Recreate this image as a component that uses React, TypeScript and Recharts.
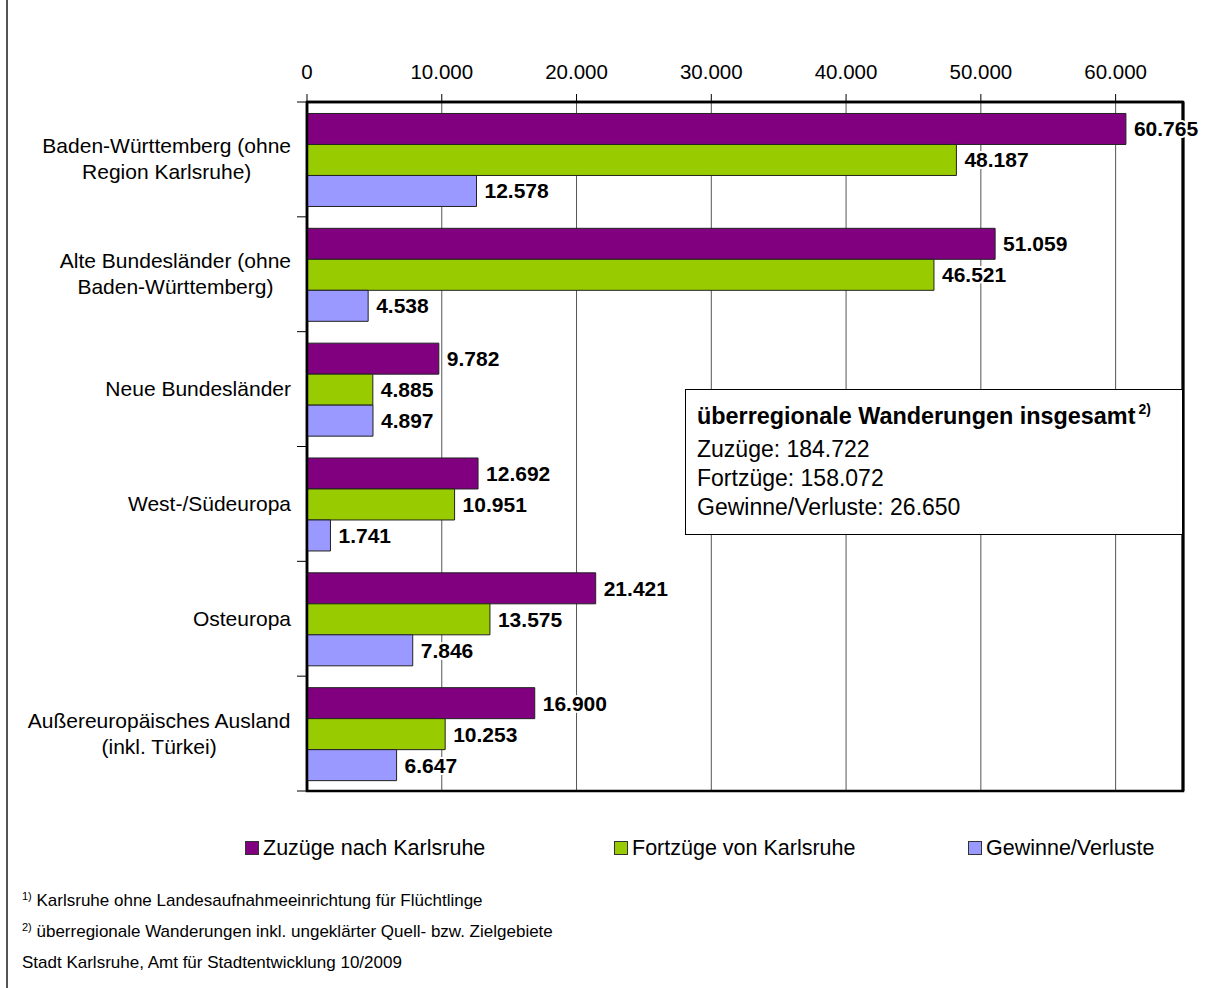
import React from 'react';
import { BarChart, Bar, XAxis, YAxis, CartesianGrid, LabelList, Legend, ReferenceArea, ReferenceLine } from 'recharts';

const categories = [
  'Baden-Württemberg (ohne\nRegion Karlsruhe)',
  'Alte Bundesländer (ohne\nBaden-Württemberg)',
  'Neue Bundesländer',
  'West-/Südeuropa',
  'Osteuropa',
  'Außereuropäisches Ausland\n(inkl. Türkei)',
];
const zuzuege = [60765, 51059, 9782, 12692, 21421, 16900];
const fortzuege = [48187, 46521, 4885, 10951, 13575, 10253];
const gewinne = [12578, 4538, 4897, 1741, 7846, 6647];
const xTicks = [0, 10000, 20000, 30000, 40000, 50000, 60000];
const seriesNames = ['Zuzüge nach Karlsruhe', 'Fortzüge von Karlsruhe', 'Gewinne/Verluste'];
const seriesColors = ['#800080', '#99CC00', '#9999FF'];

const data = categories.map((name, i) => ({
  name,
  zu: zuzuege[i],
  fort: fortzuege[i],
  gew: gewinne[i],
}));

const FONT = '"Liberation Sans", Arial, sans-serif';
const fmt = (v: any) => String(v).replace(/\B(?=(\d{3})+(?!\d))/g, '.');

let ctx: CanvasRenderingContext2D | null = null;
const measure = (t: string, font: string) => {
  if (!ctx) ctx = document.createElement('canvas').getContext('2d');
  if (!ctx) return t.length * 10;
  ctx.font = font;
  return ctx.measureText(t).width;
};

const CAT_FS = 21;
const BAND = (791 - 102) / categories.length;

const YTick = (props: any) => {
  const { y, payload, index } = props;
  const lines = String(payload.value).split('\n');
  const right = 291;
  const font = `${CAT_FS}px ${FONT}`;
  const widths = lines.map((l) => measure(l, font));
  const maxW = Math.max(...widths);
  const cx = right - maxW / 2;
  const lh = 26;
  const startY = y - ((lines.length - 1) * lh) / 2 + 7;
  return (
    <g>
      {lines.map((l, i) => (
        <text key={i} x={cx} y={startY + i * lh} textAnchor="middle" fontSize={CAT_FS} fontFamily={FONT} fill="#000">
          {l}
        </text>
      ))}
      <line x1={297} x2={307} y1={y - BAND / 2} y2={y - BAND / 2} stroke="#000" strokeWidth={1} />
      {index === categories.length - 1 && (
        <line x1={297} x2={307} y1={y + BAND / 2} y2={y + BAND / 2} stroke="#000" strokeWidth={1} />
      )}
    </g>
  );
};

const XTick = (props: any) => {
  const { x, payload } = props;
  return (
    <text x={x} y={79} textAnchor="middle" fontSize={20.5} fontFamily={FONT} fill="#000">
      {fmt(payload.value)}
    </text>
  );
};

const legendLefts = [245, 614, 968];

const LegendContent = (props: any) => {
  const items = [...(props.payload || [])].sort(
    (a: any, b: any) => seriesNames.indexOf(a.value) - seriesNames.indexOf(b.value)
  );
  return (
    <div style={{ position: 'relative', width: '100%', height: 26, fontFamily: FONT, fontSize: 21.5, lineHeight: '26px', color: '#000' }}>
      {items.map((it: any, i: number) => (
        <div key={i} style={{ position: 'absolute', left: legendLefts[i], top: 0, display: 'flex', alignItems: 'center', whiteSpace: 'nowrap' }}>
          <span style={{ display: 'inline-block', width: 12, height: 12, background: it.color, border: '1px solid #333', marginRight: 4 }} />
          <span>{it.value}</span>
        </div>
      ))}
    </div>
  );
};

const labelStyle = {
  fontWeight: 'bold',
  fontSize: 21,
  fontFamily: FONT,
  fill: '#000',
  stroke: '#fff',
  strokeWidth: 4,
  paintOrder: 'stroke',
} as any;

const supStyle = { fontSize: 11, position: 'relative', top: -6 } as any;

export default function App() {
  return (
    <div style={{ position: 'absolute', left: 0, top: 0, width: 1224, height: 988, background: '#fff', fontFamily: FONT, overflow: 'hidden' }}>
      <div style={{ position: 'absolute', left: 6, top: 0, width: 2, height: 988, background: '#555' }} />
      <div style={{ position: 'absolute', left: 0, top: 0 }}>
        <BarChart
          width={1224}
          height={988}
          layout="vertical"
          data={data}
          margin={{ top: 62, left: 7, right: 41, bottom: 197 }}
          barCategoryGap="10%"
          barGap={0}
        >
          <CartesianGrid horizontal={false} stroke="#555" strokeWidth={1} />
          <XAxis
            type="number"
            orientation="top"
            domain={[0, 65000]}
            ticks={xTicks}
            height={40}
            tick={<XTick />}
            tickSize={8}
            tickLine={{ stroke: '#000' }}
            axisLine={{ stroke: '#000', strokeWidth: 2.5 }}
            allowDataOverflow
          />
          <YAxis
            type="category"
            dataKey="name"
            width={300}
            tick={<YTick />}
            tickLine={false}
            axisLine={{ stroke: '#000', strokeWidth: 2.5 }}
            interval={0}
          />
          <ReferenceArea x1={0} x2={65000} fill="none" stroke="#000" strokeWidth={2.5} ifOverflow="visible" />
          <ReferenceLine x={65000} stroke="#000" strokeWidth={3} ifOverflow="visible" />
          <Bar dataKey="zu" name={seriesNames[0]} fill={seriesColors[0]} stroke="#222" strokeWidth={1} isAnimationActive={false}>
            <LabelList dataKey="zu" position="right" offset={8} formatter={fmt} style={labelStyle} />
          </Bar>
          <Bar dataKey="fort" name={seriesNames[1]} fill={seriesColors[1]} stroke="#222" strokeWidth={1} isAnimationActive={false}>
            <LabelList dataKey="fort" position="right" offset={8} formatter={fmt} style={labelStyle} />
          </Bar>
          <Bar dataKey="gew" name={seriesNames[2]} fill={seriesColors[2]} stroke="#222" strokeWidth={1} isAnimationActive={false}>
            <LabelList dataKey="gew" position="right" offset={8} formatter={fmt} style={labelStyle} />
          </Bar>
          <Legend
            layout="horizontal"
            verticalAlign="middle"
            align="center"
            content={<LegendContent />}
            wrapperStyle={{ left: 0, top: 835, width: 1224 }}
          />
        </BarChart>
      </div>
      <div
        style={{
          position: 'absolute',
          left: 685,
          top: 389,
          width: 498,
          height: 146,
          boxSizing: 'border-box',
          border: '1.5px solid #000',
          background: '#fff',
          padding: '10.5px 0 0 11px',
          color: '#000',
        }}
      >
        <div style={{ fontWeight: 'bold', fontSize: 23.4, lineHeight: '31.5px', whiteSpace: 'nowrap' }}>
          überregionale Wanderungen insgesamt
          <span style={{ fontSize: 14, position: 'relative', top: -10, marginLeft: 3 }}>2)</span>
        </div>
        <div style={{ fontSize: 23, lineHeight: '29px' }}>Zuzüge: 184.722</div>
        <div style={{ fontSize: 23, lineHeight: '29px' }}>Fortzüge: 158.072</div>
        <div style={{ fontSize: 23, lineHeight: '29px' }}>Gewinne/Verluste: 26.650</div>
      </div>
      <div style={{ position: 'absolute', left: 22, top: 886, fontSize: 17, lineHeight: '30px', color: '#000', whiteSpace: 'nowrap' }}>
        <div>
          <span style={supStyle}>1)</span> Karlsruhe ohne Landesaufnahmeeinrichtung für Flüchtlinge
        </div>
        <div>
          <span style={supStyle}>2)</span> überregionale Wanderungen inkl. ungeklärter Quell- bzw. Zielgebiete
        </div>
        <div>Stadt Karlsruhe, Amt für Stadtentwicklung 10/2009</div>
      </div>
    </div>
  );
}
